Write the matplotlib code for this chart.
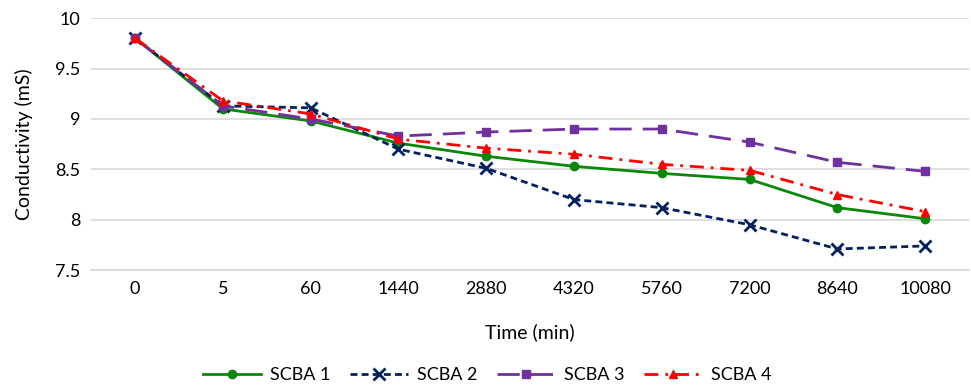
import numpy as np
import matplotlib.pyplot as plt

plt.rcParams['font.family'] = ['Lato', 'DejaVu Sans']

times = ["0", "5", "60", "1440", "2880", "4320", "5760", "7200", "8640", "10080"]
scba1 = [9.80, 9.10, 8.98, 8.76, 8.63, 8.53, 8.46, 8.40, 8.12, 8.01]
scba2 = [9.80, 9.13, 9.11, 8.70, 8.51, 8.20, 8.12, 7.95, 7.71, 7.74]
scba3 = [9.80, 9.13, 9.00, 8.83, 8.87, 8.90, 8.90, 8.77, 8.57, 8.48]
scba4 = [9.80, 9.18, 9.05, 8.80, 8.71, 8.65, 8.55, 8.49, 8.25, 8.08]

fig = plt.figure(figsize=(9.71, 3.87), dpi=100)
ax = fig.add_axes([0.094, 0.302, 0.904, 0.651])

x = np.arange(len(times))
ax.plot(x, scba1, color='#0b870b', lw=2, marker='o', ms=6, label='SCBA 1')
ax.plot(x, scba2, color='#002060', lw=2, ls=(0, (2.5, 1.5)), marker='x', ms=9,
        mew=2, label='SCBA 2')
ax.plot(x, scba3, color='#7030A0', lw=2, ls=(0, (8, 4)), marker='s', ms=6,
        label='SCBA 3')
ax.plot(x, scba4, color='#FF0000', lw=2, ls=(0, (5, 2.5, 1, 2.5)), marker='^',
        ms=6, label='SCBA 4')

ax.set_xlim(-0.5, len(times) - 0.5)
ax.set_ylim(7.5, 10)
ax.set_yticks([7.5, 8, 8.5, 9, 9.5, 10])
ax.set_yticklabels(['7.5', '8', '8.5', '9', '9.5', '10'])
ax.set_xticks(x)
ax.set_xticklabels(times)
ax.tick_params(length=0, labelsize=13, pad=8)
ax.grid(axis='y', color='#d9d9d9', lw=1.2)
ax.set_axisbelow(True)
for s in ['top', 'right', 'left']:
    ax.spines[s].set_visible(False)
ax.spines['bottom'].set_color('#d9d9d9')
ax.spines['bottom'].set_linewidth(1.2)

ax.set_xlabel('Time (min)', fontsize=14, labelpad=19)
ax.set_ylabel('Conductivity (mS)', fontsize=14, labelpad=16)

fig.legend(loc='center', ncol=4, frameon=False, fontsize=13,
           bbox_to_anchor=(0.502, 0.03), handlelength=3.2, handletextpad=0.5,
           columnspacing=1.1)

fig.savefig('out.png', dpi=100)
